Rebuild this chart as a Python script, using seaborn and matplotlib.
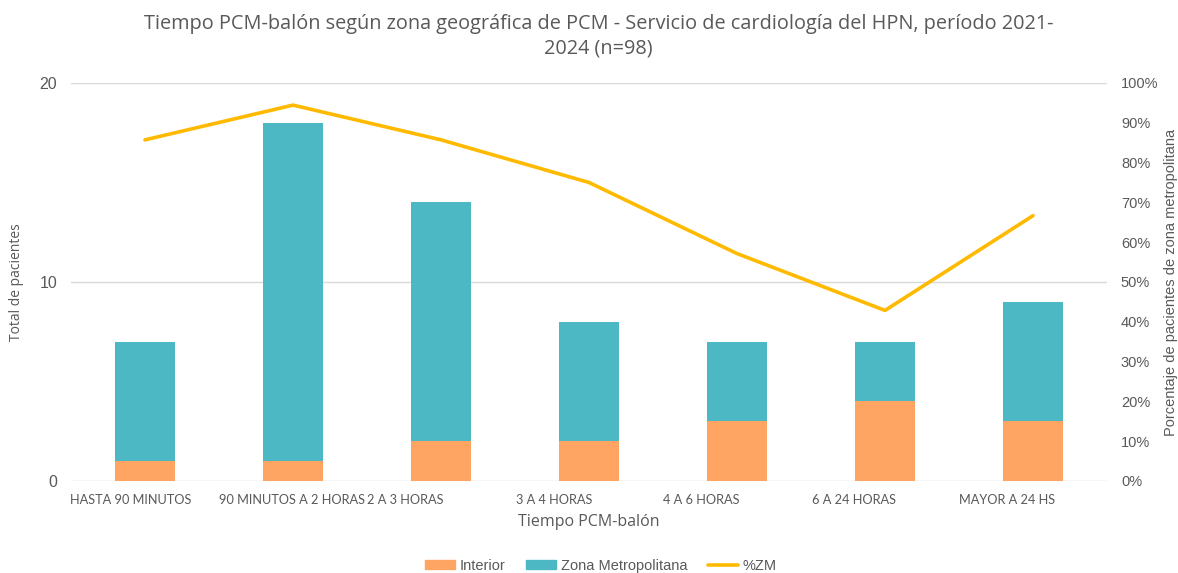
import numpy as np
import pandas as pd
import seaborn as sns
import matplotlib.pyplot as plt
import matplotlib.transforms as mtransforms
from matplotlib.patches import Patch
from matplotlib.lines import Line2D
from matplotlib.ticker import FuncFormatter

# Datos
categorias = ["HASTA 90 MINUTOS", "90 MINUTOS A 2 HORAS", "2 A 3 HORAS", "3 A 4 HORAS",
              "4 A 6 HORAS", "6 A 24 HORAS", "MAYOR A 24 HS"]
interior = [1, 1, 2, 2, 3, 4, 3]
zona_metro = [6, 17, 12, 6, 4, 3, 6]

C_INT = "#FEA564"
C_ZM = "#4BB8C3"
C_LINE = "#FFBA00"
GRIS = "#595959"

df = pd.DataFrame({"cat": categorias, "interior": interior, "zm": zona_metro})
df["total"] = df["interior"] + df["zm"]
df["pct_zm"] = df["zm"] / df["total"]

sns.set_theme(style="white")
plt.rcParams["font.family"] = ["Liberation Sans", "DejaVu Sans"]

fig = plt.figure(figsize=(11.78, 5.73), dpi=100)
ax = fig.add_axes([71 / 1178, 1 - 481 / 573, (1107 - 71) / 1178, (481 - 83) / 573])

# barras apiladas: total (ZM arriba) y luego interior encima
sns.barplot(df, x="cat", y="total", color=C_ZM, width=0.4, ax=ax, saturation=1, linewidth=0)
sns.barplot(df, x="cat", y="interior", color=C_INT, width=0.4, ax=ax, saturation=1, linewidth=0)

ax.set_ylim(0, 20)
ax.set_xlim(-0.5, len(categorias) - 0.5)
ax.set_yticks([0, 10, 20])
ax.yaxis.grid(True, color="#d9d9d9", linewidth=1)
ax.set_axisbelow(True)
for s in ax.spines.values():
    s.set_visible(False)
ax.tick_params(axis="y", colors=GRIS, labelsize=11.5, length=0, pad=10)
ax.tick_params(axis="x", colors=GRIS, length=0, pad=9)

# Excel dibuja las etiquetas algo corridas a la izquierda; se imita con un desplazamiento (px)
desplaz_px = [-14, -1, -36, -35, -36, -31, -26]
for lab, dx in zip(ax.get_xticklabels(), desplaz_px):
    lab.set_family(["Lato", "DejaVu Sans"])
    lab.set_fontsize(9.2)
    lab.set_transform(lab.get_transform() + mtransforms.ScaledTranslation(dx / 100, 0, fig.dpi_scale_trans))

ax.set_xlabel("Tiempo PCM-balón", color=GRIS, fontsize=11.5, family=["Open Sans", "DejaVu Sans"], labelpad=6)
ax.set_ylabel("Total de pacientes", color=GRIS, fontsize=10, family=["Open Sans", "DejaVu Sans"])
ax.yaxis.set_label_coords(-0.045, 0.5)

ax2 = ax.twinx()
sns.lineplot(x=np.arange(len(categorias)), y=df["pct_zm"].values, color=C_LINE, linewidth=2.6, ax=ax2)
ax2.set_ylim(0, 1)
ax2.set_yticks(np.linspace(0, 1, 11))
ax2.yaxis.set_major_formatter(FuncFormatter(lambda v, p: f"{v * 100:.0f}%"))
ax2.tick_params(axis="y", colors=GRIS, labelsize=10.5, length=0, pad=10)
for s in ax2.spines.values():
    s.set_visible(False)
ax2.set_ylabel("Porcentaje de pacientes de zona metropolitana", color=GRIS, fontsize=10.5)
ax2.yaxis.set_label_coords(1.055, 0.5)

fig.suptitle("Tiempo PCM-balón según zona geográfica de PCM - Servicio de cardiología del HPN, período 2021-\n2024 (n=98)",
             x=0.508, y=0.975, color=GRIS, fontsize=14.3, family=["Open Sans", "DejaVu Sans"], linespacing=1.25)

handles = [Patch(color=C_INT, label="Interior"),
           Patch(color=C_ZM, label="Zona Metropolitana"),
           Line2D([0], [0], color=C_LINE, linewidth=2.6, label="%ZM")]
leg = fig.legend(handles=handles, loc="center", bbox_to_anchor=(0.51, 0.013), ncol=3, frameon=False,
                 fontsize=10.5, handlelength=2.1, handleheight=0.6, columnspacing=1.4, handletextpad=0.3)
for t in leg.get_texts():
    t.set_color(GRIS)

fig.savefig("out.png", dpi=100)
